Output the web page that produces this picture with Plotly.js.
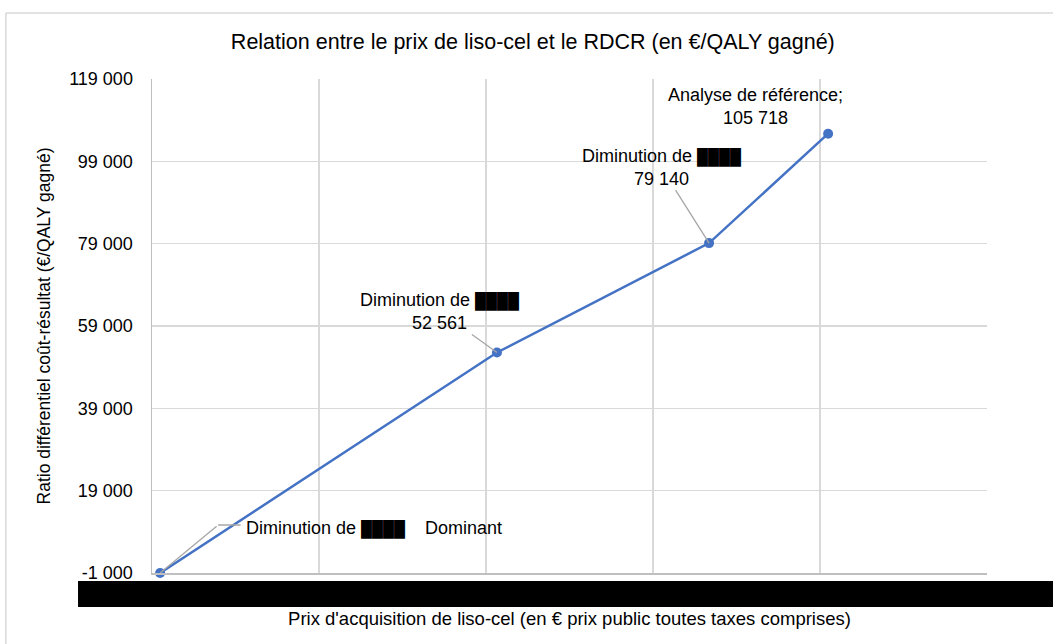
<!DOCTYPE html>
<html>
<head>
<meta charset="utf-8">
<script src="https://cdn.plot.ly/plotly-3.0.1.min.js"></script>
<style>
  html, body { margin: 0; padding: 0; background: #fff; }
  #chart { width: 1053px; height: 644px; }
</style>
</head>
<body>
<div id="chart"></div>
<script>
// prix (valeurs masquées dans la source, estimées d'après la position)
const prices = [3400, 144600, 233500, 283400];
const icer = [-1000, 52561, 79140, 105718];
const labels = ['Diminution de', 'Diminution de', 'Diminution de', 'Analyse de référence;'];
const icerText = ['Dominant', '52 561', '79 140', '105 718'];
const yTicks = [-1000, 19000, 39000, 59000, 79000, 99000, 119000];

const redact = '<span style="color:#000;font-size:15.5px">████</span>';
const blue = '#4472C4';
const grey = '#a6a6a6';
const fontFam = 'Liberation Sans, Arial, sans-serif';

function fmt(v) {
  const s = Math.abs(v).toString().replace(/\B(?=(\d{3})+(?!\d))/g, ' ');
  return (v < 0 ? '-' : '') + s;
}

// position du texte par rapport au point (en px)
const offsets = [[0, 0], [-57, -41], [-48, -76], [-73, -27]];

const annotations = prices.map((x, i) => {
  let txt;
  if (i === 0) txt = labels[i] + ' ' + redact + '    ' + icerText[i];
  else if (i === 3) txt = labels[i] + '<br>' + icerText[i];
  else txt = labels[i] + ' ' + redact + '<br>' + icerText[i];
  const a = {
    x: x, y: icer[i], xref: 'x', yref: 'y',
    text: txt, showarrow: true,
    ax: offsets[i][0], ay: offsets[i][1],
    arrowhead: 0, arrowwidth: 1.3,
    arrowcolor: i === 3 ? 'rgba(0,0,0,0)' : grey,
    standoff: 0,
    font: { family: fontFam, size: 18, color: '#000' },
    align: 'center'
  };
  if (i === 0) {
    // texte décalé, la ligne de rappel est tracée à part
    a.showarrow = false;
    a.xanchor = 'left';
    a.xshift = 84; a.yshift = 45;
  }
  return a;
});

// ligne de rappel coudée du premier point
annotations.push({
  x: prices[0], y: icer[0], xref: 'x', yref: 'y', text: '',
  showarrow: true, ax: 58, ay: -48, arrowhead: 0, arrowwidth: 1.3,
  arrowcolor: grey, standoff: 0
});
annotations.push({
  x: prices[0], y: icer[0], xref: 'x', yref: 'y', text: '',
  xshift: 58, yshift: 48,
  showarrow: true, ax: 24, ay: 0, arrowhead: 0, arrowwidth: 1.3,
  arrowcolor: grey, standoff: 0
});

const trace = {
  type: 'scatter', mode: 'lines+markers',
  x: prices, y: icer, cliponaxis: false,
  line: { color: blue, width: 2.5 },
  marker: { color: blue, size: 10 },
  hoverinfo: 'x+y', showlegend: false
};

const layout = {
  width: 1053, height: 644,
  margin: { l: 152, r: 66, t: 79, b: 71 },
  paper_bgcolor: '#fff', plot_bgcolor: '#fff',
  font: { family: fontFam, color: '#000' },
  title: {
    text: 'Relation entre le prix de liso-cel et le RDCR (en €/QALY gagné)',
    font: { size: 21.5, color: '#000' },
    x: 0.506, xanchor: 'center', yref: 'container', y: 0.935, yanchor: 'middle'
  },
  xaxis: {
    range: [0, 350000], dtick: 70000, tick0: 0,
    showgrid: true, gridcolor: '#d9d9d9', gridwidth: 1.2,
    showline: true, linecolor: '#bfbfbf', linewidth: 1.5, mirror: false,
    zeroline: false, showticklabels: false, ticks: '',
    title: {
      text: "Prix d'acquisition de liso-cel (en € prix public toutes taxes comprises)",
      font: { size: 18.5, color: '#000' }, standoff: 38
    }
  },
  yaxis: {
    range: [-1000, 119000], tickvals: yTicks, ticktext: yTicks.map(fmt),
    showgrid: true, gridcolor: '#d9d9d9', gridwidth: 1.2,
    showline: true, linecolor: '#bfbfbf', linewidth: 1.5,
    zeroline: false, ticks: '', ticklen: 0, ticklabelstandoff: 14,
    tickfont: { size: 18, color: '#000' },
    title: {
      text: 'Ratio différentiel coût-résultat (€/QALY gagné)',
      font: { size: 17.5, color: '#000' }, standoff: 14
    }
  },
  annotations: annotations,
  shapes: [
    // cadre du graphique
    { type: 'line', xref: 'paper', yref: 'paper', x0: -0.175, x1: 1.1, y0: 1.1336, y1: 1.1336,
      line: { color: '#d9d9d9', width: 1.5 } },
    { type: 'line', xref: 'paper', yref: 'paper', x0: -0.175, x1: -0.175, y0: -0.2, y1: 1.1336,
      line: { color: '#d9d9d9', width: 1.5 } },
    // bande noire masquant les étiquettes de l'axe x
    { type: 'rect', xref: 'paper', yref: 'paper', x0: -0.0886, x1: 1.1, y0: -0.0688, y1: -0.0162,
      fillcolor: '#000', line: { width: 0 }, layer: 'above' }
  ]
};

Plotly.newPlot('chart', [trace], layout, { displayModeBar: false, staticPlot: true });
</script>
</body>
</html>
